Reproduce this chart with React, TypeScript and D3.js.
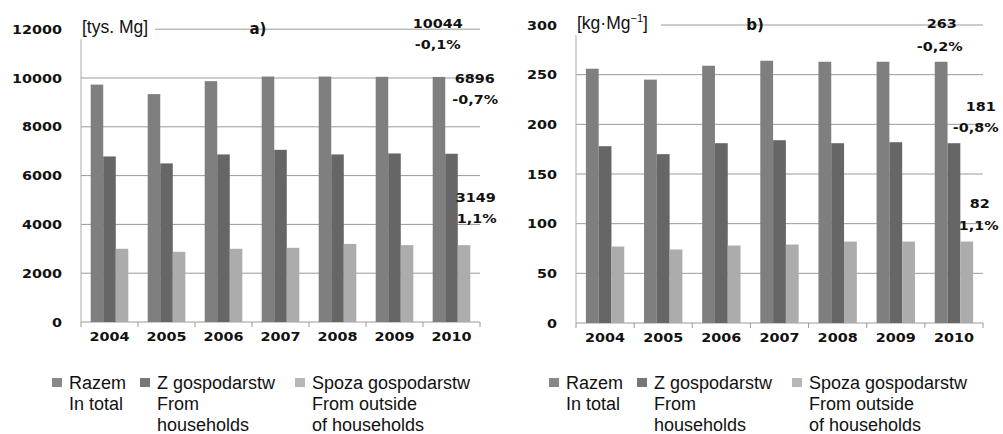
import React from 'react';
import * as d3 from 'd3';

const years = ['2004', '2005', '2006', '2007', '2008', '2009', '2010'];

// a) [tys. Mg]
const razemA = [9730, 9340, 9870, 10060, 10060, 10050, 10044];
const zA = [6785, 6500, 6867, 7056, 6867, 6908, 6896];
const spozaA = [3000, 2876, 3000, 3040, 3200, 3150, 3149];
const ticksA = [0, 2000, 4000, 6000, 8000, 10000, 12000];

// b) [kg·Mg-1]
const razemB = [256, 245, 259, 264, 263, 263, 263];
const zB = [178, 170, 181, 184, 181, 182, 181];
const spozaB = [77, 74, 78, 79, 82, 82, 82];
const ticksB = [0, 50, 100, 150, 200, 250, 300];

const seriesNames = ['Razem', 'Z gospodarstw', 'Spoza gospodarstw'];
const legendLines = [
    ['Razem', 'In total'],
    ['Z gospodarstw', 'From', 'households'],
    ['Spoza gospodarstw', 'From outside', 'of households'],
];
const annotA = [['10044', '-0,1%'], ['6896', '-0,7%'], ['3149', '1,1%']];
const annotB = [['263', '-0,2%'], ['181', '-0,8%'], ['82', '1,1%']];

const barColors = ['#7f7f7f', '#666666', '#acacac'];
const legendColors = ['#888888', '#777777', '#b8b8b8'];
const numFont = '"DejaVu Sans", Verdana, sans-serif';
const txtFont = '"Liberation Sans", Arial, sans-serif';

const Num = ({ x, y, text, anchor = 'middle', size = 12 }) => (
    <text transform={`translate(${x},${y}) scale(1.2,1)`} textAnchor={anchor}
        fontFamily={numFont} fontWeight="bold" fontSize={size} fill="#111">{text}</text>
);

const Panel = ({ series, ticks, x0, x1, yTop, yBottom, unit, title, titleX, annot, annotPos, legendX, unitBoxW }) => {
    const x = d3.scaleBand().domain(years).range([x0, x1]).paddingInner(0.34).paddingOuter(0.17);
    const xs = d3.scaleBand().domain(seriesNames).range([0, x.bandwidth()]);
    const y = d3.scaleLinear().domain([0, ticks[ticks.length - 1]]).range([yBottom, yTop]);
    const step = x.step();
    const last = years.length - 1;

    return (
        <g>
            {ticks.map(t => (
                <g key={t}>
                    <line x1={x0} x2={x1} y1={y(t)} y2={y(t)} stroke="#9a9a9a" strokeWidth={1} />
                    <Num x={x0 - 19} y={y(t) + 4.5} text={t} anchor="end" />
                </g>
            ))}
            {/* white box under unit label covers the top gridline */}
            <rect x={x0 - 2} y={yTop - 14} width={unitBoxW} height={24} fill="#fff" />
            <line x1={x0} x2={x0} y1={yTop + 10} y2={yBottom} stroke="#ababab" />
            {d3.range(years.length + 1).map(i => (
                <line key={i} x1={x0 + i * step} x2={x0 + i * step} y1={yBottom} y2={yBottom + 5} stroke="#9a9a9a" />
            ))}
            {years.map((yr, i) => (
                <g key={yr}>
                    {series.map((s, k) => (
                        <rect key={k} x={x(yr) + xs(seriesNames[k])} width={xs.bandwidth()}
                            y={y(s[i])} height={yBottom - y(s[i])} fill={barColors[k]} />
                    ))}
                    <Num x={x(yr) + x.bandwidth() / 2} y={yBottom + 19} text={yr} />
                </g>
            ))}
            <text x={x0 + 1} y={yTop + 4} fontFamily={txtFont} fontSize={17.5} fill="#111">{unit}</text>
            <text x={titleX} y={yTop + 5} textAnchor="middle" fontFamily={numFont} fontWeight="bold" fontSize={15} fill="#111">{title}</text>
            {/* value labels beside the 2010 group: [dx, dy, dx2, dy2] from the bar top */}
            {annot.map((a, k) => {
                const [dx, dy, dx2, dy2] = annotPos[k];
                const bx = x(years[last]);
                const by = y(series[k][last]);
                return (
                    <g key={k}>
                        <Num x={bx + dx} y={by + dy} text={a[0]} />
                        <Num x={bx + dx2} y={by + dy2} text={a[1]} />
                    </g>
                );
            })}
            {legendLines.map((lines, k) => {
                const lx = legendX + [0, 88, 243][k];
                return (
                    <g key={k}>
                        <rect x={lx} y={378} width={10} height={9} fill={legendColors[k]} />
                        {lines.map((l, j) => (
                            <text key={j} x={lx + 17} y={389 + j * 21} fontFamily={txtFont} fontSize={18} fill="#111">{l}</text>
                        ))}
                    </g>
                );
            })}
        </g>
    );
};

export default function App() {
    return (
        <svg width={1003} height={434} style={{ position: 'absolute', left: 0, top: 0, background: '#fff' }}>
            <Panel series={[razemA, zA, spozaA]} ticks={ticksA} x0={81} x1={480} yTop={29.2} yBottom={322}
                unit="[tys. Mg]" title="a)" titleX={258} annot={annotA}
                annotPos={[[5, -49, 5, -28], [42, -71, 42.5, -50], [43, -43, 44, -22]]} legendX={52} unitBoxW={76} />
            <Panel series={[razemB, zB, spozaB]} ticks={ticksB} x0={576} x1={983} yTop={25} yBottom={323}
                unit={<>[kg·Mg<tspan dy={-7} fontSize={11}>−1</tspan><tspan dy={7}>]</tspan></>} title="b)" titleX={755} annot={annotB}
                annotPos={[[7, -34, 5, -11], [46, -32, 41, -11], [45, -33.5, 44, -11.5]]} legendX={549} unitBoxW={87} />
        </svg>
    );
}
